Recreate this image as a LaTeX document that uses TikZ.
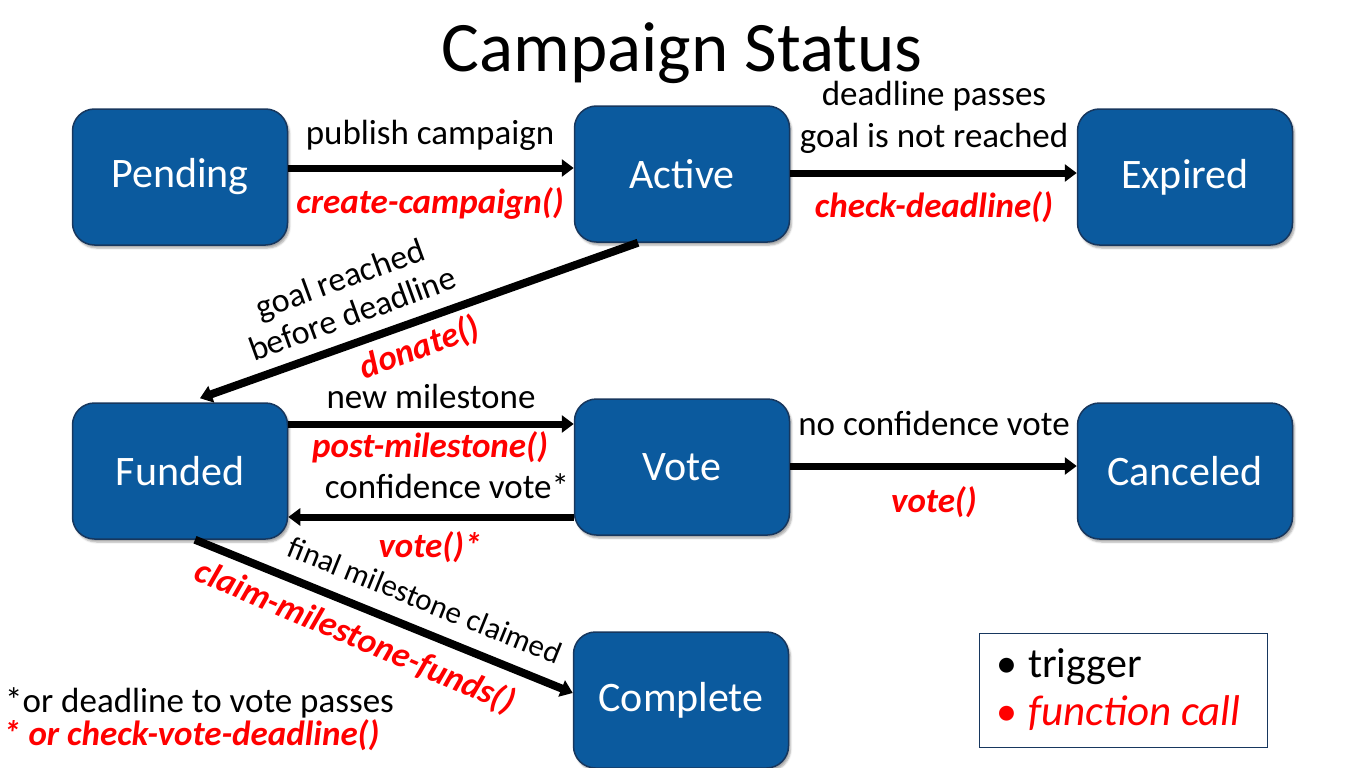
\documentclass[tikz,border=0pt]{standalone}
\usepackage{fontspec}
\setmainfont{Carlito}
\usetikzlibrary{arrows.meta,shadows.blur,calc}
\definecolor{boxblue}{HTML}{0B5A9E}
\definecolor{boxedge}{HTML}{17375E}
\definecolor{fred}{HTML}{FF0000}
\begin{document}
\begin{tikzpicture}[x=1pt,y=-1pt,
  state/.style={draw=boxedge, line width=1.5pt, fill=boxblue, rounded corners=22pt,
    minimum width=215pt, minimum height=136pt, text=white,
    font=\fontsize{42}{49}\selectfont,
    blur shadow={shadow xshift=2pt,shadow yshift=-3pt,shadow opacity=35}},
  arr/.style={line width=7pt, draw=black, -{Triangle[length=12pt,width=17pt]}},
  trig/.style={font=\fontsize{35}{42}\selectfont, anchor=base, inner sep=0pt},
  func/.style={font=\fontsize{35}{42}\selectfont\bfseries\itshape, text=fred, anchor=base, inner sep=0pt},
  rtrig/.style={font=\fontsize{34}{37}\selectfont, inner sep=0pt},
  rfunc/.style={font=\fontsize{35}{40}\selectfont\bfseries\itshape, text=fred, inner sep=0pt},
  note/.style={font=\fontsize{35}{40}\selectfont, anchor=base west, inner sep=0pt},
]
\useasboundingbox (0,0) rectangle (1366,768);

\node[font=\fontsize{71}{84}\selectfont, anchor=base, inner sep=0pt] (title) at (682,72) {Campaign Status};

\node[state] (pending)  at (180,177) {Pending};
\node[state] (active)   at (682,174) {Active};
\node[state] (expired)  at (1185,177) {Expired};
\node[state] (funded)   at (180,471) {Funded};
\node[state] (vote)     at (682,467) {Vote};
\node[state] (canceled) at (1185,471) {Canceled};
\node[state] (complete) at (681,700) {Complete};

\coordinate (l1) at (0,168);
\coordinate (l2) at (0,173);
\coordinate (l3) at (0,424);
\coordinate (l4) at (0,517);
\coordinate (l5) at (0,466);

\draw[arr] (pending.east |- l1) -- (active.west |- l1);
\draw[arr] (active.east |- l2) -- (expired.west |- l2);
\draw[arr] (funded.east |- l3) -- (vote.west |- l3);
\draw[arr] (vote.west |- l4) -- (funded.east |- l4);
\draw[arr] (vote.east |- l5) -- (canceled.west |- l5);
\draw[arr, line width=8pt] ([xshift=-44pt]active.south) -- ([xshift=20pt,yshift=4pt]funded.north);
\draw[arr, line width=8pt] ([xshift=15pt]funded.south) -- ([yshift=7pt]complete.west);

\node[trig] (t1) at (430,144) {publish campaign};
\node[func] (f1) at (430,213) {create-campaign()};
\node[trig] (t2a) at (934,106) {deadline passes};
\node[trig] (t2b) at (934,147) {goal is not reached};
\node[func] (f2) at (934,217) {check-deadline()};
\node[rtrig, rotate=20, align=center] (t3) at (346,296) {goal reached\\before deadline};
\node[rfunc, rotate=20] (f3) at (420,348) {donate()};
\node[trig] (t4) at (431,408) {new milestone};
\node[func] (f4) at (430,457) {post-milestone()};
\node[trig] (t5) at (447,498) {confidence vote*};
\node[func] (f5) at (430,557) {vote()*};
\node[trig] (t6) at (934,435) {no confidence vote};
\node[func] (f6) at (934,512) {vote()};
\node[rtrig, font=\fontsize{31}{36}\selectfont, rotate=-22] (t7) at (425,600) {final milestone claimed};
\node[rfunc, rotate=-23] (f7) at (355,637) {claim-milestone-funds()};

\node[draw=boxedge, line width=1pt, minimum width=288pt, minimum height=114pt, inner sep=0pt] (legend) at (1123,690) {};
\node[font=\fontsize{42}{48}\selectfont, anchor=base west, inner sep=0pt] (b1) at (996,677) {\textbullet};
\node[font=\fontsize{42}{48}\selectfont, anchor=base west, inner sep=0pt] (lt) at (1028,677) {trigger};
\node[font=\fontsize{42}{48}\selectfont, text=fred, anchor=base west, inner sep=0pt] (b2) at (996,725) {\textbullet};
\node[font=\fontsize{43}{48}\selectfont\itshape, text=fred, anchor=base west, inner sep=0pt] (lf) at (1028,725) {function call};

\node[note] (n1) at (5,712) {*or deadline to vote passes};
\node[note, font=\fontsize{35}{40}\selectfont\bfseries\itshape, text=fred] (n2) at (3,745) {* or check-vote-deadline()};
\end{tikzpicture}
\end{document}
